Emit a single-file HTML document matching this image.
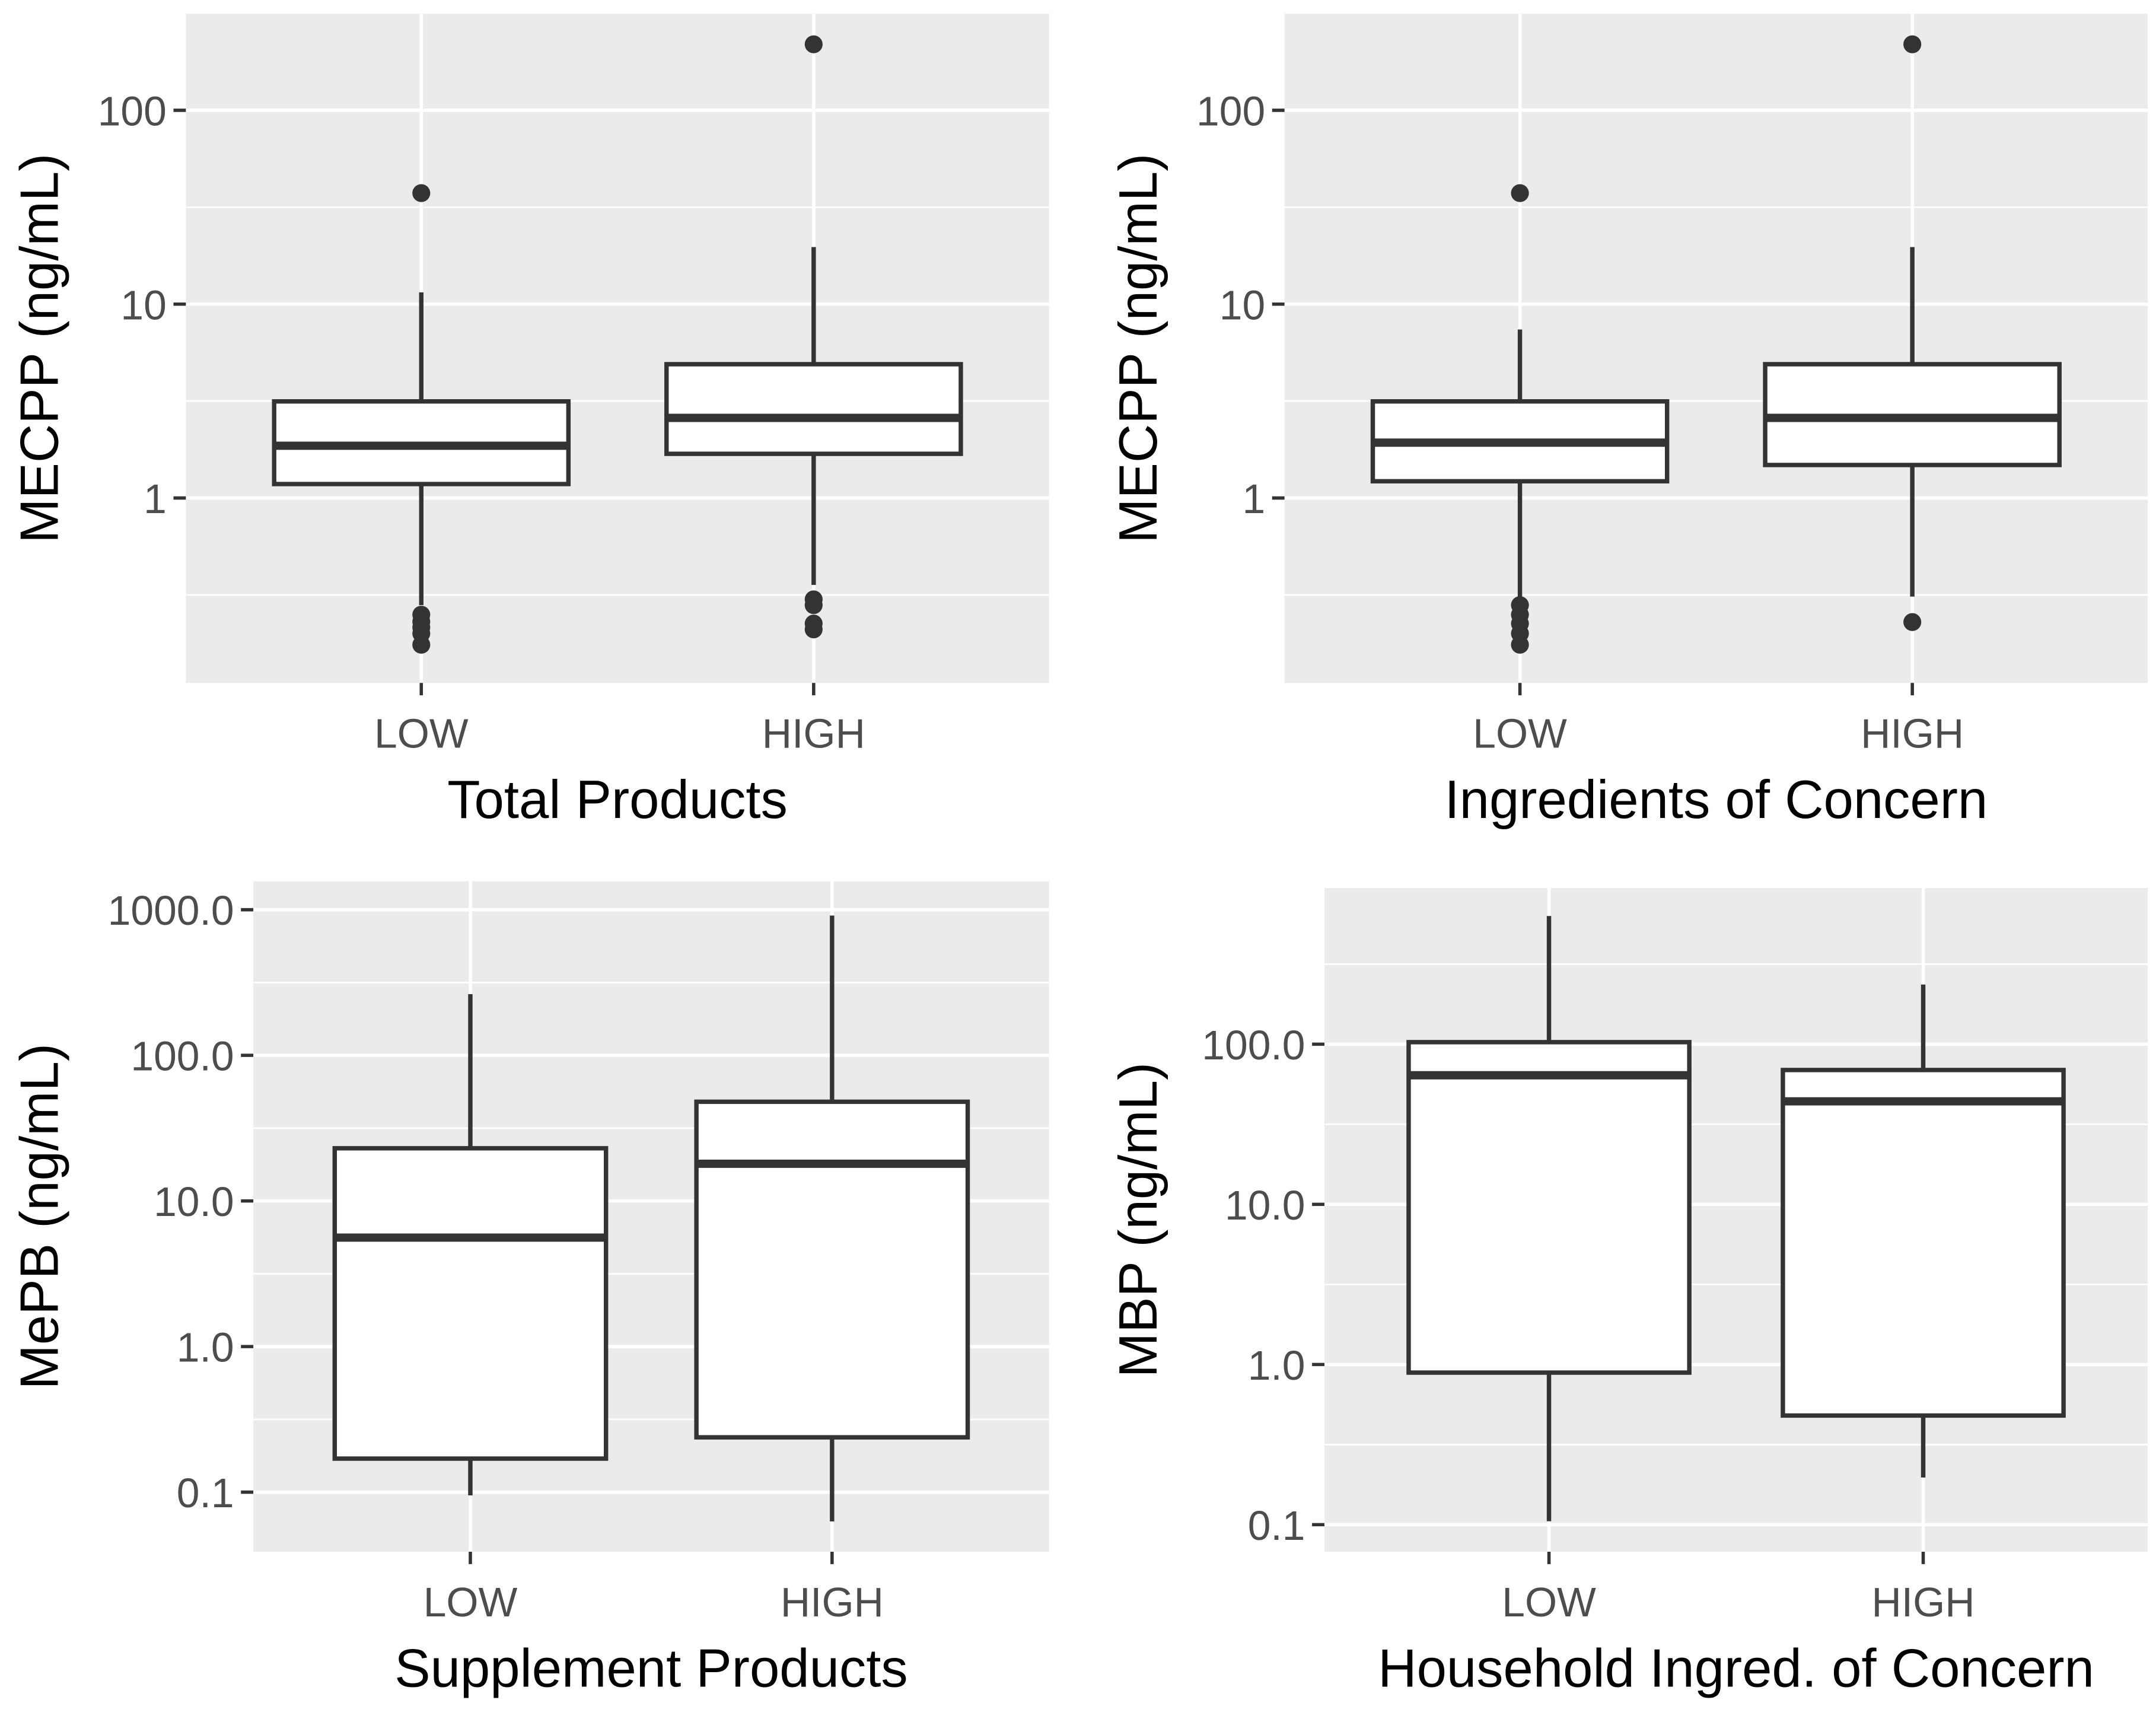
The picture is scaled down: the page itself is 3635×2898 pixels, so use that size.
<!DOCTYPE html>
<html><head><meta charset="utf-8"><style>
html,body{margin:0;padding:0;background:#fff;}
svg{display:block;}
text{font-family:"Liberation Sans",Arial,sans-serif;}
</style></head><body>
<svg id="chart" xmlns="http://www.w3.org/2000/svg" width="3635" height="2898" viewBox="0 0 1566 1248.5" preserveAspectRatio="none"></svg>
<script>
// ---- data ----
const categories = ["LOW", "HIGH"];
// panel 1: Total Products (MECPP)
const p1Stats = [[0.28, 1.18, 1.86, 3.15, 11.5], [0.356, 1.69, 2.59, 4.9, 19.7]];
const p1Outliers = [[37.4, 0.25, 0.23, 0.215, 0.2, 0.175], [219, 0.3, 0.28, 0.225, 0.21]];
// panel 2: Ingredients of Concern (MECPP)
const p2Stats = [[0.30, 1.22, 1.93, 3.15, 7.4], [0.31, 1.48, 2.59, 4.9, 19.7]];
const p2Outliers = [[37.4, 0.28, 0.25, 0.225, 0.2, 0.175], [219, 0.229]];
// panel 3: Supplement Products (MePB)
const p3Stats = [[0.095, 0.17, 5.6, 23, 263], [0.063, 0.238, 18, 48, 912]];
// panel 4: Household Ingred. of Concern (MBP)
const p4Stats = [[0.105, 0.89, 64, 103, 632], [0.197, 0.48, 44, 69, 236]];
const ticks1 = [1, 10, 100];
const tickLabels1 = ["1", "10", "100"];
const ticks3 = [0.1, 1, 10, 100, 1000];
const tickLabels3 = ["0.1", "1.0", "10.0", "100.0", "1000.0"];
const ticks4 = [0.1, 1, 10, 100];
const tickLabels4 = ["0.1", "1.0", "10.0", "100.0"];

const NS = "http://www.w3.org/2000/svg";
const svg = document.getElementById("chart");
function mk(tag, attrs, parent) {
  const e = document.createElementNS(NS, tag);
  for (const k in attrs) e.setAttribute(k, attrs[k]);
  (parent || svg).appendChild(e);
  return e;
}

function panel(cfg) {
  const g = mk("g", {});
  
  
  const {x0, x1, y0, y1, lmin, lmax} = cfg;
  const y = v => y1 - (Math.log10(v) - lmin) / (lmax - lmin) * (y1 - y0);
  const unit = (x1 - x0) / (categories.length - 1 + 1.2);
  const x = i => x0 + unit * (0.6 + i);
  const bg = mk("rect", {x: x0, y: y0, width: x1 - x0, height: y1 - y0, fill: "#ebebeb"}, g);
  
  
  for (let d = Math.floor(lmin) - 1; d <= Math.ceil(lmax) + 1; d++) {
    const yy = y(Math.pow(10, d + 0.5));
    if (yy > y0 && yy < y1) mk("line", {x1: x0, x2: x1, y1: yy, y2: yy, stroke: "#fff", "stroke-width": 1.2}, g);
  }
  cfg.ticks.forEach((t, i) => {
    const yy = y(t);
    mk("line", {x1: x0, x2: x1, y1: yy, y2: yy, stroke: "#fff", "stroke-width": 2.4}, g);
    mk("line", {x1: x0 - 9, x2: x0, y1: yy, y2: yy, stroke: "#333", "stroke-width": 2.4}, g);
    const tl = mk("text", {x: x0 - 14, y: yy + 11, "text-anchor": "end", "font-size": 30, fill: "#4d4d4d"}, g);
    tl.textContent = cfg.tickLabels[i];
    
    
  });
  categories.forEach((c, i) => {
    const xx = x(i);
    mk("line", {x1: xx, x2: xx, y1: y0, y2: y1, stroke: "#fff", "stroke-width": 2.4}, g);
    mk("line", {x1: xx, x2: xx, y1: y1, y2: y1 + 9, stroke: "#333", "stroke-width": 2.4}, g);
    const xl = mk("text", {x: xx, y: y1 + 47, "text-anchor": "middle", "font-size": 30, fill: "#4d4d4d"}, g);
    xl.textContent = c;
    
    
    const s = cfg.stats[i];
    const hw = unit * 0.375;
    const bx = mk("g", {}, g);
    
    
    mk("line", {x1: xx, x2: xx, y1: y(s[4]), y2: y(s[3]), stroke: "#333", "stroke-width": 3.2}, bx);
    mk("line", {x1: xx, x2: xx, y1: y(s[1]), y2: y(s[0]), stroke: "#333", "stroke-width": 3.2}, bx);
    mk("rect", {x: xx - hw, y: y(s[3]), width: 2 * hw, height: y(s[1]) - y(s[3]), fill: "#fff", stroke: "#333", "stroke-width": 3.2}, bx);
    mk("line", {x1: xx - hw, x2: xx + hw, y1: y(s[2]), y2: y(s[2]), stroke: "#333", "stroke-width": 6}, bx);
    (cfg.outliers ? cfg.outliers[i] : []).forEach(v => {
      const o = mk("circle", {cx: xx, cy: y(v), r: 6.5, fill: "#333"}, bx);
      
      
    });
  });
  const yt = mk("text", {x: 0, y: 0, transform: `translate(${cfg.ytx},${(y0 + y1) / 2}) rotate(-90)`, "text-anchor": "middle", "font-size": 39, fill: "#000"}, g);
  yt.textContent = cfg.ytitle;
  
  
  const xt = mk("text", {x: (x0 + x1) / 2, y: y1 + 98, "text-anchor": "middle", "font-size": 39, fill: "#000"}, g);
  xt.textContent = cfg.xtitle;
  
  
}

panel({name: "panel-total-products", x0: 135, x1: 762, y0: 10, y1: 496, lmin: -0.954, lmax: 2.498,
  ticks: ticks1, tickLabels: tickLabels1, stats: p1Stats, outliers: p1Outliers,
  ytitle: "MECPP (ng/mL)", xtitle: "Total Products", ytx: 42});
panel({name: "panel-ingredients-of-concern", x0: 933, x1: 1560, y0: 10, y1: 496, lmin: -0.954, lmax: 2.498,
  ticks: ticks1, tickLabels: tickLabels1, stats: p2Stats, outliers: p2Outliers,
  ytitle: "MECPP (ng/mL)", xtitle: "Ingredients of Concern", ytx: 840});
panel({name: "panel-supplement-products", x0: 184, x1: 762, y0: 640, y1: 1127, lmin: -1.409, lmax: 3.196,
  ticks: ticks3, tickLabels: tickLabels3, stats: p3Stats,
  ytitle: "MePB (ng/mL)", xtitle: "Supplement Products", ytx: 42});
panel({name: "panel-household-ingredients", x0: 962, x1: 1560, y0: 645, y1: 1127, lmin: -1.169, lmax: 2.975,
  ticks: ticks4, tickLabels: tickLabels4, stats: p4Stats,
  ytitle: "MBP (ng/mL)", xtitle: "Household Ingred. of Concern", ytx: 840});
</script>
</body></html>
